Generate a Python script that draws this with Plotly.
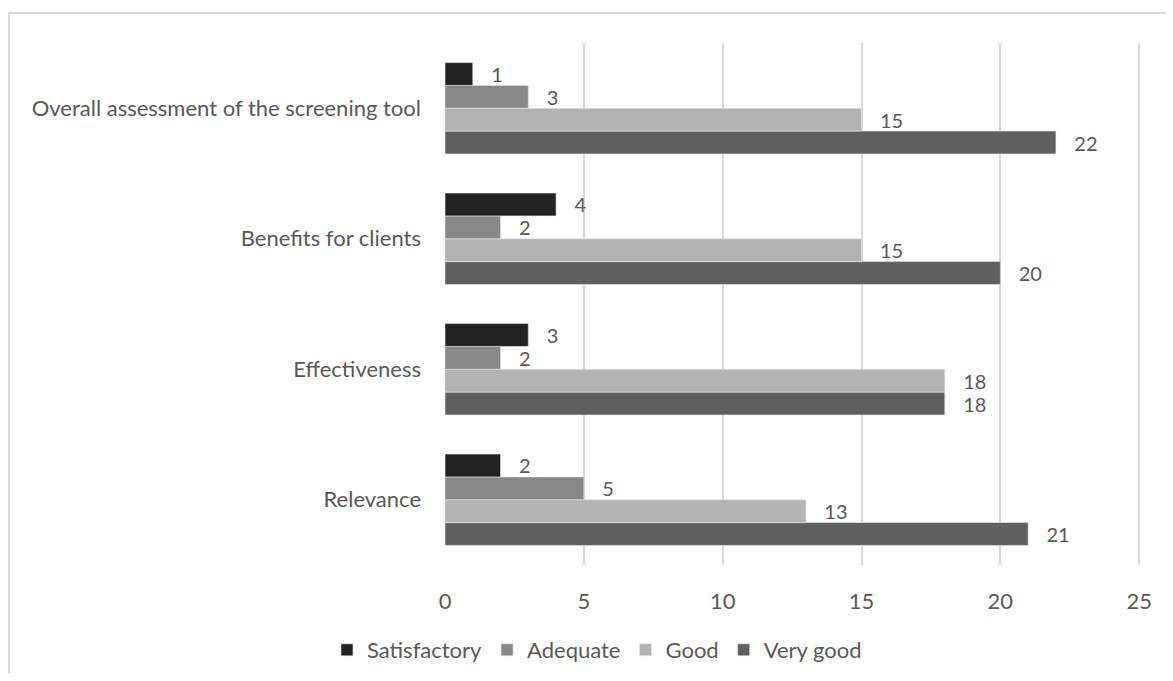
import plotly.graph_objects as go

categories = ["Relevance", "Effectiveness", "Benefits for clients", "Overall assessment of the screening tool"]
series_names = ["Satisfactory", "Adequate", "Good", "Very good"]
satisfactory = [2, 3, 4, 1]
adequate = [5, 2, 2, 3]
good = [13, 18, 15, 15]
very_good = [21, 18, 20, 22]
x_ticks = [0, 5, 10, 15, 20, 25]

values = {"Satisfactory": satisfactory, "Adequate": adequate, "Good": good, "Very good": very_good}
colors = {"Satisfactory": "#222222", "Adequate": "#888888", "Good": "#b3b3b3", "Very good": "#5f5f5f"}

FONT = "Lato"
FS = 22
LBL_FS = 20
TXT = "#595959"

fig = go.Figure()
# plotly draws first trace at bottom of group -> add in reverse
for name in reversed(series_names):
    fig.add_trace(go.Bar(
        y=categories, x=values[name], name=name, orientation="h",
        marker=dict(color=colors[name], line=dict(width=0.6, color="#e8e8e8")),
        text=values[name], texttemplate="\u00a0\u00a0\u00a0%{x}", textposition="outside",
        constraintext="none",
        textfont=dict(family=FONT, size=LBL_FS, color=TXT), cliponaxis=False,
    ))

W, H = 1157, 665
L, T = 437, 35
pw, ph = 697, 522
R = W - L - pw
B = H - T - ph

def px2x(p):
    return (p - L) / pw

def py2y(p):
    return (H - B - p) / ph

fig.update_layout(
    width=W, height=H,
    margin=dict(l=L, r=R, t=T, b=B, autoexpand=False),
    barmode="group", bargap=0.3, bargroupgap=0,
    plot_bgcolor="white", paper_bgcolor="white",
    font=dict(family=FONT, size=FS, color=TXT),
    xaxis=dict(range=[0, 25.1], tickvals=x_ticks, showgrid=True, gridcolor="#d9d9d9", gridwidth=1.5,
               zeroline=False, showline=False, ticks="", ticklabelstandoff=21,
               tickfont=dict(family=FONT, size=FS, color=TXT)),
    yaxis=dict(showgrid=False, zeroline=False, showline=False, ticks="", ticklabelstandoff=23,
               tickfont=dict(family=FONT, size=FS, color=TXT)),
    legend=dict(orientation="h", traceorder="reversed", x=px2x(589), xanchor="center",
                y=py2y(642), yanchor="middle", font=dict(family=FONT, size=FS, color=TXT),
                itemwidth=30, bgcolor="rgba(0,0,0,0)"),
    showlegend=True,
    shapes=[
        dict(type="line", xref="paper", yref="paper", x0=px2x(1), x1=px2x(W + 5), y0=py2y(5), y1=py2y(5),
             line=dict(color="#d9d9d9", width=2)),
        dict(type="line", xref="paper", yref="paper", x0=px2x(1), x1=px2x(1), y0=py2y(5), y1=py2y(H + 5),
             line=dict(color="#d9d9d9", width=2)),
    ],
)

fig.write_html("out.html")
